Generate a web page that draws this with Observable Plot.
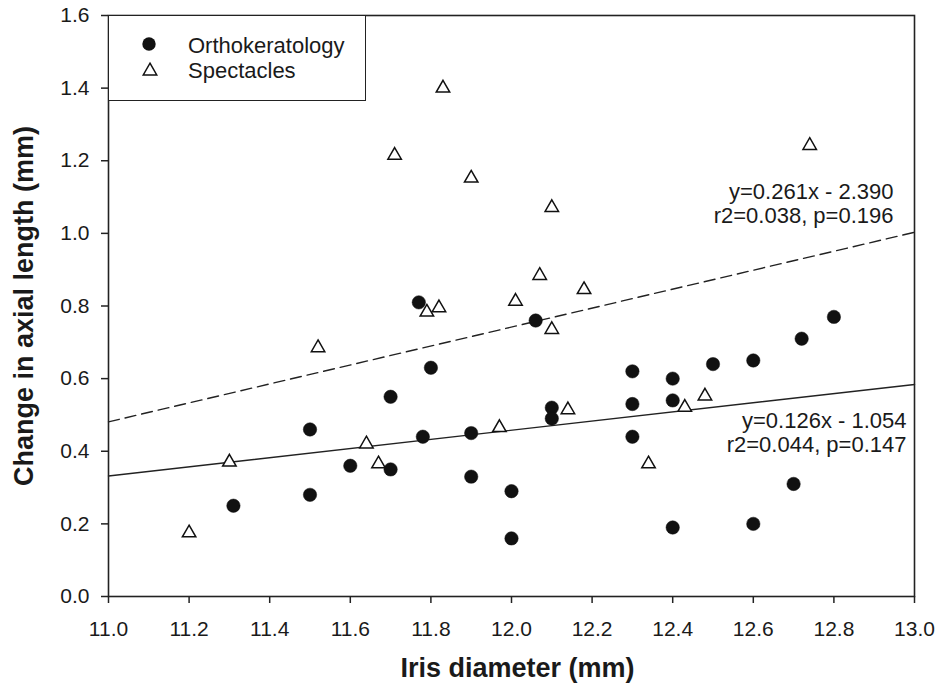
<!DOCTYPE html>
<html><head><meta charset="utf-8">
<script src="https://cdn.jsdelivr.net/npm/d3@7"></script>
<script src="https://cdn.jsdelivr.net/npm/@observablehq/plot@0.6"></script>
<style>
body{margin:0;background:#fff;}
#wrap{position:relative;width:938px;height:687px;font-family:"Liberation Sans",Arial,sans-serif;color:#1a1a1a;}
#legend{position:absolute;left:108px;top:15px;width:258px;height:86px;box-sizing:border-box;border:1.6px solid #222;background:#fff;}
#legend svg{position:absolute;left:0;top:0;}
</style></head><body><div id="wrap"><div id="legend"></div></div>
<script>
// ---- data ----
const groups = ["Orthokeratology", "Spectacles"];
const orthoX = [11.31, 11.50, 11.50, 11.60, 11.70, 11.70, 11.77, 11.78, 11.80, 11.90, 11.90, 12.00, 12.00, 12.06, 12.10, 12.10, 12.30, 12.30, 12.30, 12.40, 12.40, 12.40, 12.50, 12.60, 12.60, 12.70, 12.72, 12.80];
const orthoY = [0.25, 0.46, 0.28, 0.36, 0.55, 0.35, 0.81, 0.44, 0.63, 0.45, 0.33, 0.29, 0.16, 0.76, 0.52, 0.49, 0.62, 0.53, 0.44, 0.60, 0.54, 0.19, 0.64, 0.65, 0.20, 0.31, 0.71, 0.77];
const specX = [11.20, 11.30, 11.52, 11.64, 11.67, 11.71, 11.79, 11.82, 11.83, 11.90, 11.97, 12.01, 12.07, 12.10, 12.10, 12.14, 12.18, 12.34, 12.43, 12.48, 12.74];
const specY = [0.175, 0.37, 0.685, 0.42, 0.365, 1.215, 0.783, 0.795, 1.40, 1.152, 0.465, 0.813, 0.884, 1.071, 0.735, 0.514, 0.845, 0.365, 0.521, 0.552, 1.242];
const slopes = [0.126, 0.261];
const intercepts = [-1.054, -2.390];
const r2s = [0.044, 0.038];
const pvals = [0.147, 0.196];
const xTicks = [11.0, 11.2, 11.4, 11.6, 11.8, 12.0, 12.2, 12.4, 12.6, 12.8, 13.0];
const yTicks = [0.0, 0.2, 0.4, 0.6, 0.8, 1.0, 1.2, 1.4, 1.6];
const xLabel = "Iris diameter (mm)";
const yLabel = "Change in axial length (mm)";

// ---- derived tables ----
const ortho = orthoX.map((x, i) => ({x, y: orthoY[i]}));
const spec = specX.map((x, i) => ({x, y: specY[i]}));
const xDomain = [xTicks[0], xTicks[xTicks.length - 1]];
const fits = groups.map((g, i) => ({g, slope: slopes[i], intercept: intercepts[i]}));
const fitLine = f => xDomain.map(x => ({x, y: f.slope * x + f.intercept}));
const annot = fits.map((f, i) => ({
  x: xDomain[1], y: f.slope * xDomain[1] + f.intercept,
  text: `y=${f.slope.toFixed(3)}x - ${Math.abs(f.intercept).toFixed(3)}\nr2=${r2s[i].toFixed(3)}, p=${pvals[i].toFixed(3)}`
}));

const font = "Liberation Sans, Arial, sans-serif";
const chart = Plot.plot({
  width: 938, height: 687,
  marginLeft: 108, marginRight: 24, marginTop: 15, marginBottom: 91,
  style: {fontFamily: font, color: "#1a1a1a", background: "#fff"},
  x: {domain: xDomain},
  y: {domain: [yTicks[0], yTicks[yTicks.length - 1]]},
  marks: [
    Plot.line(fitLine(fits[1]), {x: "x", y: "y", stroke: "#222", strokeWidth: 1.4, strokeDasharray: "11,6"}),
    Plot.line(fitLine(fits[0]), {x: "x", y: "y", stroke: "#222", strokeWidth: 1.4}),
    Plot.dot(ortho, {x: "x", y: "y", symbol: "circle", r: 6.7, fill: "#111", stroke: "#111", strokeWidth: 0.5}),
    Plot.dot(spec, {x: "x", y: "y", symbol: "triangle", r: 5, fill: "white", stroke: "#111", strokeWidth: 1.5}),
    Plot.text([annot[1]], {x: "x", y: "y", text: "text", textAnchor: "end", lineAnchor: "bottom", dx: -21, dy: -9, fontSize: 22, lineHeight: 1.1, fill: "#1a1a1a"}),
    Plot.text([annot[0]], {x: "x", y: "y", text: "text", textAnchor: "end", lineAnchor: "top", dx: -8, dy: 26, fontSize: 22, lineHeight: 1.1, fill: "#1a1a1a"}),
    Plot.axisX({ticks: xTicks, tickFormat: d3.format(".1f"), tickSize: 7, tickPadding: 18, fontSize: 21, label: null, strokeWidth: 1.5, stroke: "#222"}),
    Plot.axisY({ticks: yTicks, tickFormat: d3.format(".1f"), tickSize: 7, tickPadding: 12, fontSize: 21, label: null, strokeWidth: 1.5, stroke: "#222"}),
    Plot.frame({stroke: "#222", strokeWidth: 1.6}),
    Plot.text([xLabel], {text: d => d, frameAnchor: "bottom", dx: 6, dy: 80, textAnchor: "middle", lineAnchor: "bottom", fontSize: 27, fontWeight: "bold", fill: "#1a1a1a"}),
    Plot.text([yLabel], {text: d => d, frameAnchor: "left", rotate: -90, dx: -76, textAnchor: "middle", lineAnchor: "bottom", fontSize: 27, fontWeight: "bold", fill: "#1a1a1a"})
  ]
});
const wrap = document.getElementById("wrap");
wrap.insertBefore(chart, wrap.firstChild);

// ---- legend ----
const tri = d3.symbol().type(d3.symbolTriangle).size(Math.PI * 25)();
const lg = d3.select("#legend").append("svg").attr("width", 256).attr("height", 84)
  .style("font-family", font);
lg.append("circle").attr("cx", 40).attr("cy", 28).attr("r", 6.7).attr("fill", "#111");
lg.append("path").attr("d", tri).attr("transform", "translate(41,55)").attr("fill", "white").attr("stroke", "#111").attr("stroke-width", 1.5);
lg.append("text").attr("x", 79).attr("y", 37).attr("font-size", 22).attr("fill", "#1a1a1a").text(groups[0]);
lg.append("text").attr("x", 79).attr("y", 62).attr("font-size", 22).attr("fill", "#1a1a1a").text(groups[1]);
</script>
</body></html>
